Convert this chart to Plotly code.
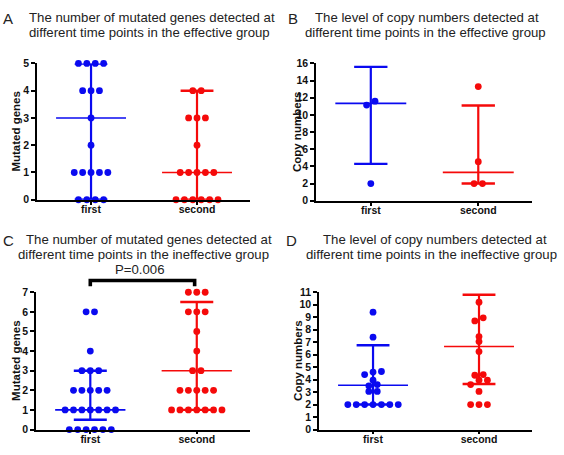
import plotly.graph_objects as go

W, H = 564, 455

categories = ["first", "second"]

# Panel A: mutated genes, effective group
a_first = [5, 5, 5, 5, 4, 4, 4, 3, 2, 1, 1, 1, 1, 1, 0, 0, 0, 0]
a_second = [4, 4, 3, 3, 3, 2, 1, 1, 1, 1, 1, 0, 0, 0, 0, 0, 0]
a_center = [3, 1]
a_low = [0, 0]
a_high = [5, 4]
a_ticks = [0, 1, 2, 3, 4, 5]

# Panel B: copy numbers, effective group
b_first = [11.6, 11.15, 2.0]
b_second = [13.3, 4.55, 2.0, 2.0]
b_center = [11.35, 3.3]
b_low = [4.3, 2.0]
b_high = [15.6, 11.1]
b_ticks = [0, 2, 4, 6, 8, 10, 12, 14, 16]

# Panel C: mutated genes, ineffective group
c_first = [6, 6, 4, 3, 3, 3, 2, 2, 2, 2, 2, 1, 1, 1, 1, 1, 1, 1, 0, 0, 0, 0, 0, 0]
c_second = [7, 7, 7, 6, 6, 6, 5, 4, 3, 3, 2, 2, 2, 2, 2, 1, 1, 1, 1, 1, 1, 1]
c_center = [1, 3]
c_low = [0.5, 1]
c_high = [3, 6.5]
c_ticks = [0, 1, 2, 3, 4, 5, 6, 7]
c_pvalue = "P=0.006"
c_bracket = [7.3, 7.6]  # bracket leg bottom / top, in data units

# Panel D: copy numbers, ineffective group
d_first = [9.4, 7.4, 4.65, 4.6, 4.4, 3.95, 3.6, 3.5, 3.05, 3.05, 2, 2, 2, 2, 2, 2, 2]
d_second = [10.2, 8.95, 8.7, 7.45, 7.05, 6.25, 4.4, 4.35, 3.95, 3.95, 3.6, 3.05, 2, 2, 2]
d_center = [3.55, 6.65]
d_low = [2.0, 3.65]
d_high = [6.75, 10.8]
d_ticks = [0, 1, 2, 3, 4, 5, 6, 7, 8, 9, 10, 11]

titles = [
    ("A", "The number of mutated genes detected at", "different time points in the effective group"),
    ("B", "The level of copy numbers detected at", "different time points in the effective group"),
    ("C", "The number of mutated genes detected at", "different time points in the ineffective group"),
    ("D", "The level of copy numbers detected at", "different time points in the ineffective group"),
]
ytitles = ["Mutated genes", "Copy numbers", "Mutated genes", "Copy numbers"]

BLUE = "#0a0af0"
RED = "#f50a0a"
colors = [BLUE, RED]
FONT = "Liberation Sans, Arial, sans-serif"

panels = [
    dict(groups=[a_first, a_second], center=a_center, low=a_low, high=a_high, ticks=a_ticks,
         xpx=(37, 250), ypx=(59, 199), title_y=(12, 27), title_lx=(28, 28), letter_x=8, ytitle_x=16),
    dict(groups=[b_first, b_second], center=b_center, low=b_low, high=b_high, ticks=b_ticks,
         xpx=(316, 532), ypx=(59, 200), title_y=(12, 27), title_lx=(314, 304), letter_x=293, ytitle_x=297),
    dict(groups=[c_first, c_second], center=c_center, low=c_low, high=c_high, ticks=c_ticks,
         xpx=(36, 250), ypx=(294, 435), title_y=(240, 255), title_lx=(25, 17), letter_x=8, ytitle_x=16),
    dict(groups=[d_first, d_second], center=d_center, low=d_low, high=d_high, ticks=d_ticks,
         xpx=(319, 532), ypx=(294, 435), title_y=(240, 255), title_lx=(322, 305), letter_x=291, ytitle_x=298),
]

XR = (-0.51, 1.5)


def spread(values, ppu, step, thr_px=5.0):
    """Beeswarm-like horizontal offsets: group near-equal values into rows."""
    order = sorted(range(len(values)), key=lambda i: values[i])
    rows, cur, start = [], [], None
    for i in order:
        v = values[i]
        if start is None or (v - start) * ppu > thr_px:
            if cur:
                rows.append(cur)
            cur, start = [i], v
        else:
            cur.append(i)
    if cur:
        rows.append(cur)
    off = [0.0] * len(values)
    for r in rows:
        n = len(r)
        for k, i in enumerate(r):
            off[i] = (k - (n - 1) / 2) * step
    return off


fig = go.Figure()
annotations = []
shapes = []

for p_i, p in enumerate(panels):
    n = p_i + 1
    xa = "x" if n == 1 else f"x{n}"
    ya = "y" if n == 1 else f"y{n}"
    x0, x1 = p["xpx"]
    ytop, ybot = p["ypx"]
    ymax = p["ticks"][-1]
    ppu = (ybot - ytop) / ymax
    px_per_cat = (x1 - x0) / (XR[1] - XR[0])
    step = 8.4 / px_per_cat

    # error bars (range + center line)
    for g in range(2):
        col = colors[g]
        lo, hi, ce = p["low"][g], p["high"][g], p["center"][g]
        fig.add_trace(go.Scatter(x=[g, g], y=[lo, hi], mode="lines", line=dict(color=col, width=2.2),
                                 xaxis=xa, yaxis=ya, showlegend=False, hoverinfo="skip"))
        for yy in (lo, hi):
            fig.add_trace(go.Scatter(x=[g - 0.155, g + 0.155], y=[yy, yy], mode="lines",
                                     line=dict(color=col, width=2.4), xaxis=xa, yaxis=ya,
                                     showlegend=False, hoverinfo="skip"))
        fig.add_trace(go.Scatter(x=[g - 0.33, g + 0.33], y=[ce, ce], mode="lines",
                                 line=dict(color=col, width=1.6), xaxis=xa, yaxis=ya,
                                 showlegend=False, hoverinfo="skip"))
    # points
    for g in range(2):
        vals = p["groups"][g]
        offs = spread(vals, ppu, step)
        fig.add_trace(go.Scatter(x=[g + o for o in offs], y=vals, mode="markers",
                                 marker=dict(color=colors[g], size=6.8, line=dict(width=0)),
                                 xaxis=xa, yaxis=ya, showlegend=False, cliponaxis=False,
                                 name=categories[g]))

    xdom = [x0 / W, x1 / W]
    ydom = [1 - ybot / H, 1 - ytop / H]
    axis_common = dict(showgrid=False, zeroline=False, showline=True, linecolor="black", linewidth=1.6,
                       ticks="outside", tickcolor="black", tickwidth=1.5,
                       tickfont=dict(family=FONT, size=10.5, color="#111", weight="bold"))
    xkey = "xaxis" if n == 1 else f"xaxis{n}"
    ykey = "yaxis" if n == 1 else f"yaxis{n}"
    fig.update_layout(**{
        xkey: dict(domain=xdom, range=list(XR), anchor=ya, tickvals=[0, 1], ticktext=categories,
                   ticklen=3, ticklabelstandoff=-4, **axis_common),
        ykey: dict(domain=ydom, range=[0, ymax], anchor=xa, tickvals=p["ticks"], ticklen=4,
                   **axis_common),
    })
    # titles
    letter, l1, l2 = titles[p_i]
    annotations.append(dict(text=letter, x=p["letter_x"] / W, y=1 - (p["title_y"][0] + 1) / H,
                            xref="paper", yref="paper", showarrow=False, xanchor="center",
                            yanchor="middle", font=dict(family=FONT, size=15, color="#222")))
    for line, cy, lx in ((l1, p["title_y"][0], p["title_lx"][0]), (l2, p["title_y"][1], p["title_lx"][1])):
        annotations.append(dict(text=line, x=lx / W, y=1 - cy / H, xref="paper", yref="paper",
                                showarrow=False, xanchor="left", yanchor="middle", borderpad=0,
                                font=dict(family=FONT, size=13.2, color="#222")))
    annotations.append(dict(text="<b>" + ytitles[p_i] + "</b>", x=p["ytitle_x"] / W,
                            y=1 - (ytop + ybot) / 2 / H, xref="paper", yref="paper",
                            showarrow=False, textangle=-90, xanchor="center", yanchor="middle",
                            font=dict(family=FONT, size=11.5, color="#111")))

# significance bracket in panel C (mapped from data to paper coords, so it is not clipped)
pc = panels[2]
pc_ppc = (pc["xpx"][1] - pc["xpx"][0]) / (XR[1] - XR[0])
pc_ppu = (pc["ypx"][1] - pc["ypx"][0]) / pc["ticks"][-1]


def c_to_paper(xv, yv):
    xp = pc["xpx"][0] + (xv - XR[0]) * pc_ppc
    yp = pc["ypx"][1] - yv * pc_ppu
    return xp / W, 1 - yp / H


pts = [c_to_paper(0, c_bracket[0]), c_to_paper(0, c_bracket[1]),
       c_to_paper(0.98, c_bracket[1]), c_to_paper(0.98, c_bracket[0])]
path = "M " + " L ".join(f"{x:.5f} {y:.5f}" for x, y in pts)
shapes.append(dict(type="path", xref="paper", yref="paper", path=path,
                   line=dict(color="black", width=3.6)))
px_mid, py_top = c_to_paper(0.47, c_bracket[1])
annotations.append(dict(text=c_pvalue, x=px_mid, y=py_top, xref="paper", yref="paper",
                        showarrow=False, xanchor="center", yanchor="bottom", yshift=1,
                        font=dict(family=FONT, size=13.2, color="#222")))

fig.update_layout(width=W, height=H, margin=dict(l=0, r=0, t=0, b=0),
                  paper_bgcolor="white", plot_bgcolor="white", annotations=annotations,
                  shapes=shapes, showlegend=False)

fig.write_html("out.html", config={"displayModeBar": False},
               post_script="document.body.style.margin='0';document.body.style.padding='0';"
                           "document.body.style.overflow='hidden';")
